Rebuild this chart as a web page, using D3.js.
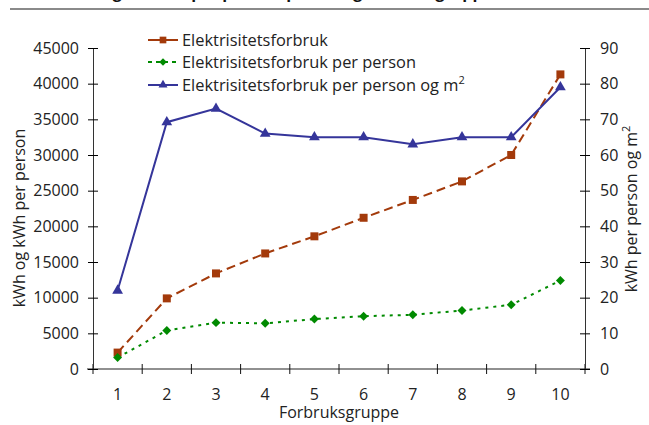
<!DOCTYPE html>
<html>
<head>
<meta charset="utf-8">
<script src="https://cdn.jsdelivr.net/npm/d3@7"></script>
<style>
  body { margin: 0; background: #fff; }
  svg { display: block; font-family: "Open Sans", sans-serif; }
</style>
</head>
<body>
<svg id="chart"></svg>
<script>
// data
const groups = [1, 2, 3, 4, 5, 6, 7, 8, 9, 10];
const forbruk = [2300, 9900, 13400, 16200, 18600, 21200, 23700, 26300, 30000, 41300];
const perPerson = [1600, 5400, 6500, 6400, 7000, 7400, 7600, 8200, 9000, 12400];
const perPersonM2 = [22, 69.2, 73, 66, 65, 65, 63, 65, 65, 79];
const leftTicks = [0, 5000, 10000, 15000, 20000, 25000, 30000, 35000, 40000, 45000];
const rightTicks = [0, 10, 20, 30, 40, 50, 60, 70, 80, 90];

const width = 649;
const height = 425;
const margin = { top: 48, right: 64, bottom: 56, left: 93 };
const fontSize = 16;

const svg = d3.select("#chart")
    .attr("width", width)
    .attr("height", height);

const x = d3.scaleBand()
    .domain(groups)
    .range([margin.left, width - margin.right]);

const yLeft = d3.scaleLinear()
    .domain([0, 45000])
    .range([height - margin.bottom, margin.top]);

const yRight = d3.scaleLinear()
    .domain([0, 90])
    .range([height - margin.bottom, margin.top]);

const bottomY = height - margin.bottom;

// title, cut off by the top edge
svg.append("text")
    .attr("x", 492)
    .attr("y", -2)
    .attr("text-anchor", "end")
    .style("font-size", "16px")
    .style("font-weight", "bold")
    .style("fill", "#111")
    .text("Elektrisitetsforbruk og forbruk per person, per m² og forbruksgruppe");

svg.append("line")
    .attr("x1", 10).attr("x2", width)
    .attr("y1", 9).attr("y2", 9)
    .style("stroke", "#8a8a8a")
    .style("stroke-width", 2);

// x axis
svg.append("line")
    .attr("x1", margin.left - 6).attr("x2", width - margin.right + 5)
    .attr("y1", bottomY).attr("y2", bottomY)
    .style("stroke", "#6b6b6b")
    .style("stroke-width", 1.5);

const xTickPos = groups.map(d => x(d)).concat([x.range()[1]]);
svg.append("g")
    .selectAll("line")
    .data(xTickPos)
    .enter().append("line")
    .attr("x1", d => d).attr("x2", d => d)
    .attr("y1", bottomY - 5).attr("y2", bottomY + 5)
    .style("stroke", "#111")
    .style("stroke-width", 1);

const xAxis = svg.append("g")
    .attr("transform", `translate(0, ${bottomY})`)
    .call(d3.axisBottom(x).tickSize(0).tickPadding(20));
xAxis.select(".domain").remove();
xAxis.selectAll("text")
    .style("font-size", fontSize + "px")
    .style("font-family", "Open Sans, sans-serif")
    .style("fill", "#222");

// left axis
const leftAxis = svg.append("g")
    .attr("transform", `translate(${margin.left}, 0)`)
    .call(d3.axisLeft(yLeft).tickValues(leftTicks).tickSize(5).tickSizeOuter(0).tickPadding(9).tickFormat(d3.format("d")));
leftAxis.selectAll(".tick line").attr("x1", 5);
leftAxis.select(".domain").style("stroke", "#333");
leftAxis.selectAll("text")
    .style("font-size", fontSize + "px")
    .style("font-family", "Open Sans, sans-serif")
    .style("fill", "#222");

// right axis
const rightAxis = svg.append("g")
    .attr("transform", `translate(${width - margin.right}, 0)`)
    .call(d3.axisRight(yRight).tickValues(rightTicks).tickSize(5).tickSizeOuter(0).tickPadding(10));
rightAxis.selectAll(".tick line").attr("x1", -5);
rightAxis.select(".domain").style("stroke", "#333");
rightAxis.selectAll("text")
    .style("font-size", fontSize + "px")
    .style("font-family", "Open Sans, sans-serif")
    .style("fill", "#222");

// axis titles
svg.append("text")
    .attr("x", (margin.left + width - margin.right) / 2)
    .attr("y", 418)
    .attr("text-anchor", "middle")
    .style("font-size", fontSize + "px")
    .style("fill", "#222")
    .text("Forbruksgruppe");

svg.append("text")
    .attr("transform", "translate(25, 218) rotate(-90)")
    .attr("text-anchor", "middle")
    .style("font-size", fontSize + "px")
    .style("fill", "#222")
    .text("kWh og kWh per person");

const rTitle = svg.append("text")
    .attr("transform", "translate(637, 209) rotate(-90)")
    .attr("text-anchor", "middle")
    .style("font-size", fontSize + "px")
    .style("fill", "#222");
rTitle.append("tspan").text("kWh per person og m");
rTitle.append("tspan").attr("dy", -7).style("font-size", "11px").text("2");

// series
const cx = (d, i) => x(groups[i]) + x.bandwidth() / 2;
const diamond = { draw: (ctx, size) => { const r = Math.sqrt(size / 2); ctx.moveTo(0, -r); ctx.lineTo(r, 0); ctx.lineTo(0, r); ctx.lineTo(-r, 0); ctx.closePath(); } };

const series = [
    { name: "Elektrisitetsforbruk", values: forbruk, y: yLeft, color: "#a33a0b", dash: "9,5", symbol: d3.symbolSquare, size: 64 },
    { name: "Elektrisitetsforbruk per person", values: perPerson, y: yLeft, color: "#008a00", dash: "3,5", symbol: diamond, size: 40 },
    { name: "Elektrisitetsforbruk per person og m", values: perPersonM2, y: yRight, color: "#35359a", dash: null, symbol: d3.symbolTriangle, size: 50 }
];

series.forEach(s => {
    const line = d3.line()
        .x(cx)
        .y(d => s.y(d));

    svg.append("path")
        .datum(s.values)
        .attr("d", line)
        .style("fill", "none")
        .style("stroke", s.color)
        .style("stroke-width", 2)
        .style("stroke-dasharray", s.dash);

    svg.append("g")
        .selectAll("path")
        .data(s.values)
        .enter().append("path")
        .attr("transform", (d, i) => `translate(${cx(d, i)}, ${s.y(d)})`)
        .attr("d", d3.symbol().type(s.symbol).size(s.size))
        .style("fill", s.color);
});

// legend
const legendY = [40, 62, 85];
series.forEach((s, i) => {
    const g = svg.append("g").attr("transform", `translate(148, ${legendY[i]})`);
    g.append("line")
        .attr("x1", 0).attr("x2", 30)
        .style("stroke", s.color)
        .style("stroke-width", 2)
        .style("stroke-dasharray", s.dash ? (i === 0 ? "30" : "4,4") : null);
    g.append("path")
        .attr("transform", "translate(15, 0)")
        .attr("d", d3.symbol().type(s.symbol).size(s.size * 0.7))
        .style("fill", s.color);
    const t = g.append("text")
        .attr("x", 34)
        .attr("y", 6)
        .style("font-size", "16.4px")
        .style("fill", "#222");
    t.append("tspan").text(s.name);
    if (i === 2) {
        t.append("tspan").attr("dy", -7).style("font-size", "11px").text("2");
    }
});
</script>
</body>
</html>
